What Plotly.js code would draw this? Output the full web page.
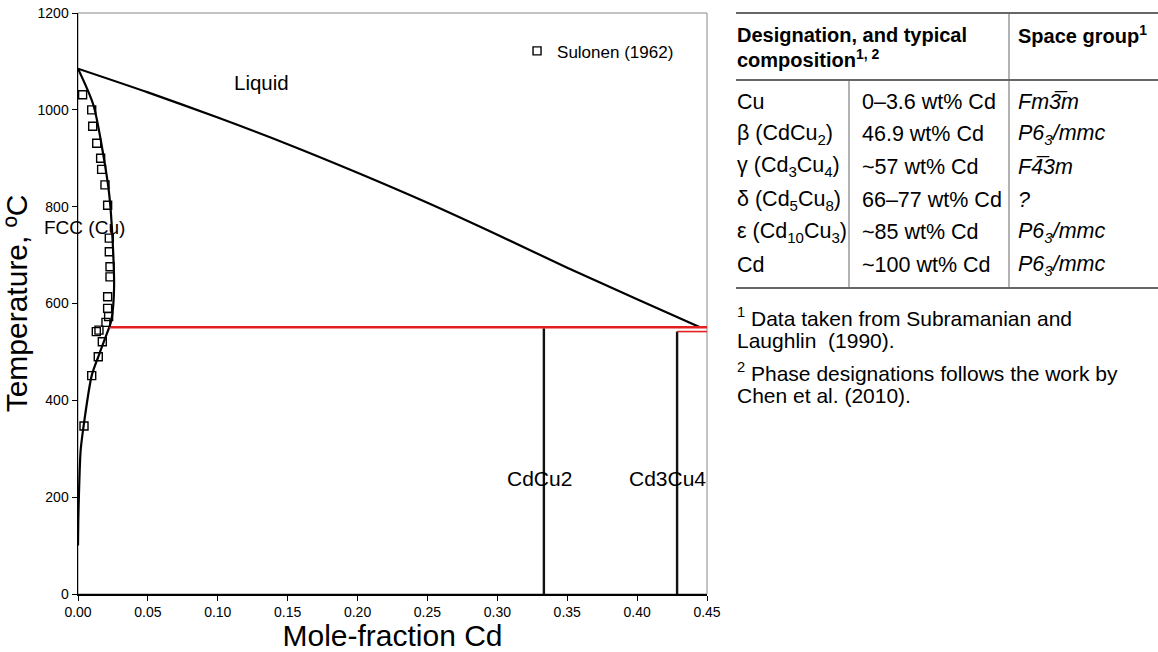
<!DOCTYPE html>
<html><head><meta charset="utf-8">
<script src="https://cdn.plot.ly/plotly-3.0.1.min.js"></script>
<style>html,body{margin:0;padding:0;background:#fff}#c{width:1158px;height:652px}</style>
</head><body><div id="c"></div>
<script>
// Liquidus
const liqX = [0, 0.05, 0.10, 0.15, 0.20, 0.25, 0.30, 0.35, 0.40, 0.445];
const liqT = [1085, 1036, 984, 929, 870, 808, 742, 674, 609, 551];
// FCC (Cu) solidus
const solX = [0, 0.0110, 0.0181, 0.0224, 0.0248, 0.0258, 0.0241, 0.0224];
const solT = [1085, 1010, 907, 824, 728, 631, 569, 551];
// FCC (Cu) solvus
const svX = [0.0224, 0.0181, 0.0145, 0.0098, 0.0043, 0.0019, 0.0007, 0.0002, 0];
const svT = [551, 518, 490, 451, 353, 297, 208, 150, 100];
// Invariant lines
const inv1X = [0.0224, 0.45], inv1T = [551, 551];
const inv2X = [0.4286, 0.45], inv2T = [542, 542];
// Compounds
const cdcu2X = [0.3333, 0.3333], cdcu2T = [0, 549];
const cd3cu4X = [0.4286, 0.4286], cd3cu4T = [0, 542];
// Sulonen (1962) data
const expX = [0.0033, 0.0098, 0.0105, 0.0134, 0.0162, 0.0169, 0.0193, 0.0212, 0.0224, 0.0224, 0.0229, 0.0229, 0.0212, 0.0212, 0.0219, 0.0200, 0.0150, 0.0131, 0.0174, 0.0145, 0.0098, 0.0043];
const expT = [1031, 1000, 966, 931, 900, 877, 845, 803, 735, 707, 676, 655, 614, 590, 573, 561, 545, 542, 521, 490, 451, 347];
const xTicks = [0, 0.05, 0.10, 0.15, 0.20, 0.25, 0.30, 0.35, 0.40, 0.45];
const yTicks = [0, 200, 400, 600, 800, 1000, 1200];
// Table
const tblCol1 = ["Cu", "β (CdCu<sub>2</sub>)", "γ (Cd<sub>3</sub>Cu<sub>4</sub>)", "δ (Cd<sub>5</sub>Cu<sub>8</sub>)", "ε (Cd<sub>10</sub>Cu<sub>3</sub>)", "Cd"];
const tblCol2 = ["0–3.6 wt% Cd", "46.9 wt% Cd", "~57 wt% Cd", "66–77 wt% Cd", "~85 wt% Cd", "~100 wt% Cd"];
const tblCol3 = ["<i>Fm3\u0305m</i>", "<i>P6<sub>3</sub>/mmc</i>", "<i>F4\u03053m</i>", "<i>?</i>", "<i>P6<sub>3</sub>/mmc</i>", "<i>P6<sub>3</sub>/mmc</i>"];
const notes = ["<sup>1</sup> Data taken from Subramanian and", "Laughlin  (1990).", "<sup>2</sup> Phase designations follows the work by", "Chen et al. (2010)."];

const F = "Liberation Sans, Arial, sans-serif";
const RED = "#e32020";
const lineTr = (x, y, color, w, shape) => ({x, y, type: "scatter", mode: "lines", line: {color, width: w, shape: shape || "linear", smoothing: 0.8}, showlegend: false, hoverinfo: "skip"});
const traces = [
  lineTr(liqX, liqT, "#000", 2.2, "spline"),
  lineTr(solX, solT, "#000", 2.2, "spline"),
  lineTr(svX, svT, "#000", 2.2, "spline"),
  lineTr(cdcu2X, cdcu2T, "#111", 2.4),
  lineTr(cd3cu4X, cd3cu4T, "#111", 2.4),
  lineTr(inv1X, inv1T, RED, 2.5),
  lineTr(inv2X, inv2T, RED, 1.6),
  {x: expX, y: expT, type: "scatter", mode: "markers", name: "Sulonen (1962)",
   marker: {symbol: "square-open", size: 8, color: "#000", line: {color: "#000", width: 1.4}}}
];

// px -> paper helpers (plot area: x 78..707, y 13..594)
const L = 78, R = 707, T0 = 13, B = 594;
const px = v => (v - L) / (R - L);
const py = v => (B - v) / (B - T0);

const ann = [];
const txt = (x, y, text, size, extra) => ann.push(Object.assign({xref: "paper", yref: "paper", x: px(x), y: py(y), text, showarrow: false, xanchor: "left", yanchor: "middle", font: {family: F, size, color: "#000"}}, extra || {}));
const dtxt = (x, y, text, size) => ann.push({xref: "x", yref: "y", x, y, text, showarrow: false, xanchor: "center", yanchor: "middle", font: {family: F, size: size, color: "#000"}});
dtxt(0.1316, 1057, "Liquid", 20.5);
dtxt(0.0050, 758, "FCC (Cu)", 19);
dtxt(0.3305, 238, "CdCu2", 21);
dtxt(0.4214, 238, "Cd3Cu4", 21);

txt(735, 35, "<b>Designation, and typical</b>", 20);
txt(735, 58, "<b>composition<sup>1, 2</sup></b>", 20);
txt(1016, 35, "<b>Space group<sup>1</sup></b>", 20);
const rowY = [102, 134, 167, 200, 232, 265];
rowY.forEach((y, i) => {
  txt(735, y, tblCol1[i], 21.5);
  txt(860, y, tblCol2[i], 21.5);
  txt(1016, y, tblCol3[i], 21.5);
});
[317, 340, 372, 395].forEach((y, i) => txt(735, y, notes[i], 21));

const shp = [];
const pl = (x0, y0, x1, y1, color, w) => shp.push({type: "line", xref: "paper", yref: "paper", x0: px(x0), y0: py(y0), x1: px(x1), y1: py(y1), line: {color, width: w}});
// plot area border
shp.push({type: "rect", xref: "paper", yref: "paper", x0: 0, y0: 0, x1: 1, y1: 1, line: {color: "#888", width: 1}, layer: "below"});
// table lines
pl(736, 13, 1158, 13, "#333", 1.3);
pl(736, 80, 1158, 80, "#333", 1.3);
pl(736, 288, 1158, 288, "#333", 1.3);
pl(1009, 13, 1009, 288, "#666", 1);
pl(849, 80, 849, 288, "#666", 1);

const layout = {
  width: 1158, height: 652,
  margin: {l: L, r: 1158 - R, t: T0, b: 652 - B},
  paper_bgcolor: "#fff", plot_bgcolor: "#fff",
  font: {family: F, color: "#000"},
  xaxis: {range: [0, 0.45], tickvals: xTicks, tickformat: ".2f", ticks: "outside", ticklen: 5, tickcolor: "#000",
          showgrid: false, zeroline: false, showline: true, linecolor: "#000", linewidth: 1.5,
          tickfont: {family: F, size: 14, color: "#000"},
          title: {text: "Mole-fraction Cd", font: {family: F, size: 30, color: "#000"}, standoff: 4}},
  yaxis: {range: [0, 1200], tickvals: yTicks, ticks: "outside", ticklen: 5, tickcolor: "#000",
          showgrid: false, zeroline: false, showline: true, linecolor: "#000", linewidth: 1.5,
          tickfont: {family: F, size: 14, color: "#000"},
          title: {text: "Temperature, ºC", font: {family: F, size: 30, color: "#000"}, standoff: 6}},
  showlegend: true,
  legend: {x: 0.698, y: 0.965, xanchor: "left", yanchor: "top", bgcolor: "rgba(0,0,0,0)", font: {family: F, size: 17, color: "#000"}, itemwidth: 30},
  annotations: ann,
  shapes: shp
};
Plotly.newPlot("c", traces, layout, {displayModeBar: false, staticPlot: true});
</script></body></html>
